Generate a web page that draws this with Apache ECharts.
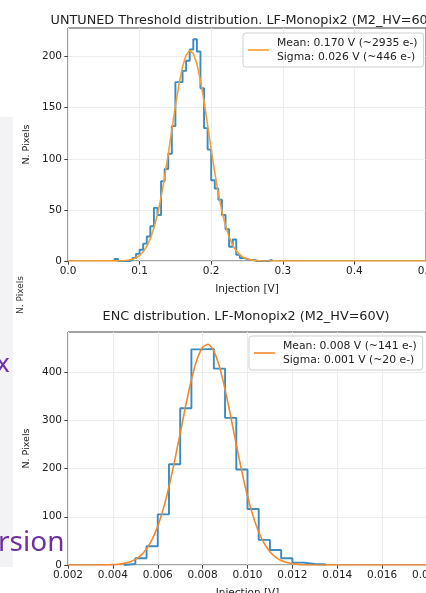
<!DOCTYPE html>
<html><head><meta charset="utf-8">
<script src="https://cdn.jsdelivr.net/npm/echarts@6/dist/echarts.min.js"></script>
<style>html,body{margin:0;padding:0;background:#fff;}#c{width:426px;height:593px;}</style>
</head><body><div id="c"></div>
<script>
// ---- Threshold histogram (top) ----
const thrEdges = [0.065,0.070,0.075,0.080,0.085,0.090,0.095,0.100,0.105,0.110,0.115,0.120,0.125,0.130,0.135,0.140,0.145,0.150,0.155,0.160,0.165,0.170,0.175,0.180,0.185,0.190,0.195,0.200,0.205,0.210,0.215,0.220,0.225,0.230,0.235,0.240,0.245,0.250,0.255,0.260,0.265,0.270,0.275,0.280,0.285];
const thrCounts = [2,0,0,0,1,3,7,11,17,24,34,52,45,78,90,105,132,175,175,186,196,207,217,205,169,130,109,79,71,60,45,31,14,21,6,3,2,1,1,0,0,0,0,1];
const thrFitX = [0.0,0.065,0.070,0.075,0.080,0.085,0.090,0.095,0.100,0.105,0.110,0.115,0.120,0.125,0.130,0.135,0.140,0.145,0.150,0.155,0.160,0.165,0.170,0.175,0.180,0.185,0.190,0.195,0.200,0.205,0.210,0.215,0.220,0.225,0.230,0.235,0.240,0.245,0.250,0.255,0.260,0.265,0.270,0.275,0.5];
const thrFitY = [0,0.1,0.1,0.3,0.5,1.0,1.8,3.2,5.5,9.0,14.3,21.8,32.2,45.6,62.3,82.3,104.6,128.3,151.7,172.9,190.1,201.5,206.0,203.0,192.9,176.8,156.2,133.0,109.3,86.5,66.1,48.7,34.6,23.7,15.6,9.9,6.1,3.6,2.1,1.1,0.6,0.3,0.1,0,0];
const thrXTicks = [0.0,0.1,0.2,0.3,0.4,0.5];
const thrYTicks = [0,50,100,150,200];
const thrTitle = 'UNTUNED Threshold distribution. LF-Monopix2 (M2_HV=60V)';
const thrLegend = 'Mean: 0.170 V (~2935 e-)\nSigma: 0.026 V (~446 e-)';

// ---- ENC histogram (bottom) ----
const encEdges = [0.0045,0.0050,0.0055,0.0060,0.0065,0.0070,0.0075,0.0080,0.0085,0.0090,0.0095,0.0100,0.0105,0.0110,0.0115,0.0120,0.0125,0.0130,0.0135];
const encCounts = [2,14,39,105,209,325,447,448,407,305,198,116,52,31,14,5,2,1];
const encFitX = [0.002,0.003,0.0035,0.004,0.00425,0.0045,0.00475,0.005,0.00525,0.0055,0.00575,0.006,0.00625,0.0065,0.00675,0.007,0.00725,0.0075,0.00775,0.008,0.00825,0.0085,0.00875,0.009,0.00925,0.0095,0.00975,0.010,0.01025,0.0105,0.01075,0.011,0.01125,0.0115,0.01175,0.012,0.01225,0.0125,0.013,0.018];
const encFitY = [0,0,0.2,0.8,1.7,3.4,6.4,11.6,20.1,33.4,53.1,80.6,116.9,162.2,215.3,273.1,331.2,384.1,425.9,451.5,457.6,443.4,410.9,364.0,308.3,249.7,193.3,143.1,101.3,68.5,44.3,27.4,16.2,9.2,5.0,2.6,1.3,0.6,0.1,0];
const encXTicks = [0.002,0.004,0.006,0.008,0.010,0.012,0.014,0.016,0.018];
const encYTicks = [0,100,200,300,400];
const encTitle = 'ENC distribution. LF-Monopix2 (M2_HV=60V)';
const encLegend = 'Mean: 0.008 V (~141 e-)\nSigma: 0.001 V (~20 e-)';

function stepData(edges, counts){
  const d = [[edges[0],0]];
  for (let i=0;i<counts.length;i++) d.push([edges[i],counts[i]]);
  d.push([edges[edges.length-1],0]);
  return d;
}
function zip(x,y){ return x.map((v,i)=>[v,y[i]]); }

const FONT = 'DejaVu Sans';
const TXT = '#222';
function xAxis(idx,min,max,interval,dec,ticks){
  return {type:'value',gridIndex:idx,min:min,max:max,interval:interval,
    name:'Injection [V]',nameLocation:'middle',nameGap:23,
    nameTextStyle:{fontFamily:FONT,fontSize:10.5,color:TXT},
    axisLine:{show:false},
    axisTick:{show:true,length:3.7,inside:false,lineStyle:{color:'#444',width:1}},
    axisLabel:{margin:5,fontFamily:FONT,fontSize:10.5,color:TXT,formatter:v=>v.toFixed(dec)},
    splitLine:{show:true,lineStyle:{color:'#ececec',width:1}}};
}
function yAxis(idx,max,interval,ticks){
  return {type:'value',gridIndex:idx,min:0,max:max,interval:interval,
    name:'N. Pixels',nameLocation:'middle',nameGap:30,nameRotate:90,
    nameTextStyle:{fontFamily:FONT,fontSize:9.5,color:TXT},
    axisLine:{show:false},
    axisTick:{show:true,length:3.7,customValues:ticks,lineStyle:{color:'#444',width:1}},
    axisLabel:{margin:6,fontFamily:FONT,fontSize:10.5,color:TXT,customValues:ticks},
    splitLine:{show:true,lineStyle:{color:'#ececec',width:1}}};
}
function legend(name,left,top){
  return {data:[name],left:left,top:top,orient:'vertical',
    icon:'rect',itemWidth:21,itemHeight:1.6,
    padding:[3,6,3,5],itemGap:0,
    backgroundColor:'rgba(255,255,255,0.85)',borderColor:'#cfcfcf',borderWidth:1,borderRadius:3,
    textStyle:{fontFamily:FONT,fontSize:10.8,color:TXT,lineHeight:14,padding:[0,0,0,3]},
    selectedMode:false};
}

const chart = echarts.init(document.getElementById('c'),null,{renderer:'canvas'});
chart.setOption({
  animation:false,
  backgroundColor:'#ffffff',
  title:[
    {text:thrTitle,left:241,top:9,textAlign:'center',textStyle:{fontFamily:FONT,fontSize:12.8,fontWeight:'normal',color:TXT}},
    {text:encTitle,left:241,top:305,textAlign:'center',textStyle:{fontFamily:FONT,fontSize:12.8,fontWeight:'normal',color:TXT}}
  ],
  grid:[
    {left:68,top:28,width:358,height:233,show:true,borderColor:'#444',borderWidth:1,backgroundColor:'transparent',outerBoundsMode:'none',containLabel:false},
    {left:68,top:332,width:359,height:233,show:true,borderColor:'#444',borderWidth:1,backgroundColor:'transparent',outerBoundsMode:'none',containLabel:false}
  ],
  xAxis:[xAxis(0,0,0.5,0.1,1,thrXTicks), xAxis(1,0.002,0.018,0.002,3,encXTicks)],
  yAxis:[yAxis(0,228,50,thrYTicks), yAxis(1,483,100,encYTicks)],
  legend:[legend(thrLegend,243,33), legend(encLegend,249,336)],
  series:[
    {type:'line',name:'thrHist',xAxisIndex:0,yAxisIndex:0,data:stepData(thrEdges,thrCounts),step:'end',
      showSymbol:false,symbol:'none',lineStyle:{color:'#3a8ac4',width:1.9},itemStyle:{color:'#3a8ac4'},z:2},
    {type:'line',name:thrLegend,xAxisIndex:0,yAxisIndex:0,data:zip(thrFitX,thrFitY),
      showSymbol:false,symbol:'none',lineStyle:{color:'#f59e36',width:1.6},itemStyle:{color:'#f59e36'},z:3},
    {type:'line',name:'encHist',xAxisIndex:1,yAxisIndex:1,data:stepData(encEdges,encCounts),step:'end',
      showSymbol:false,symbol:'none',lineStyle:{color:'#3a8ac4',width:1.9},itemStyle:{color:'#3a8ac4'},z:2},
    {type:'line',name:encLegend,xAxisIndex:1,yAxisIndex:1,data:zip(encFitX,encFitY),smooth:0.2,
      showSymbol:false,symbol:'none',lineStyle:{color:'#f0882e',width:1.6},itemStyle:{color:'#f0882e'},z:3}
  ],
  graphic:[
    {type:'rect',left:0,top:117,shape:{width:13,height:450},style:{fill:'#f3f3f6'},z:-1},
    {type:'text',x:-4,y:352,style:{text:'x',font:'26px "Noto Sans"',fill:'#7030a0'}},
    {type:'text',x:-2,y:529,style:{text:'rsion',font:'28px "Noto Sans"',fill:'#7030a0'}},
    {type:'text',x:16,y:314,rotation:Math.PI/2,style:{text:'N. Pixels',font:'9px "DejaVu Sans"',fill:'#333'}}
  ]
});
</script></body></html>
